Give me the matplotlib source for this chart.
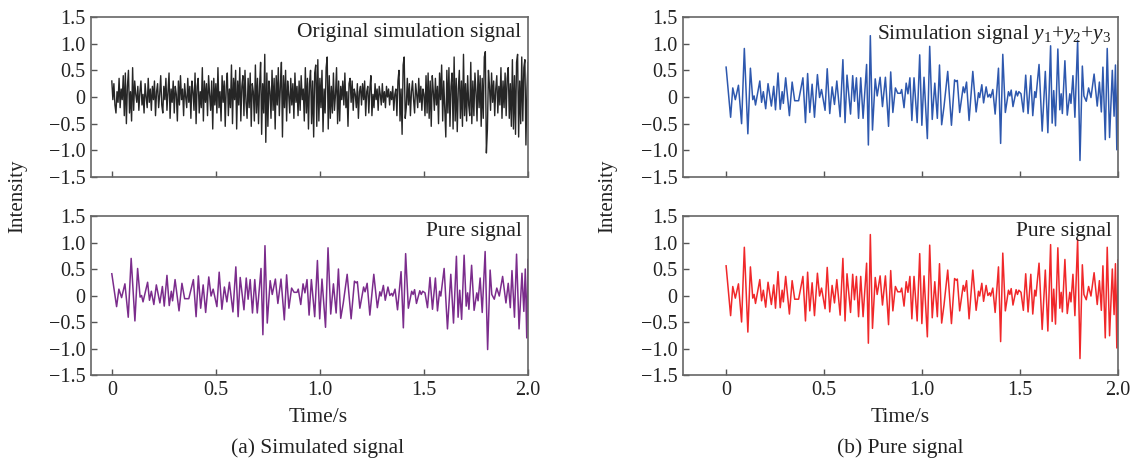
import numpy as np
import matplotlib
matplotlib.use('Agg')
import matplotlib.pyplot as plt

plt.rcParams['font.family'] = ['Liberation Serif', 'DejaVu Serif']
plt.rcParams['mathtext.fontset'] = 'custom'
plt.rcParams['mathtext.rm'] = 'Liberation Serif'
plt.rcParams['mathtext.it'] = 'Liberation Serif:italic'

# tempos dos extremos do sinal puro (s)
t_pure = [0.000, 0.023, 0.034, 0.047, 0.063, 0.079, 0.093, 0.111, 0.124, 0.136,
          0.143, 0.150, 0.172, 0.181, 0.190, 0.202, 0.214, 0.231, 0.243, 0.252,
          0.265, 0.276, 0.286, 0.292, 0.304, 0.323, 0.337, 0.350, 0.370, 0.392,
          0.405, 0.416, 0.427, 0.439, 0.451, 0.466, 0.477, 0.487, 0.505, 0.516,
          0.529, 0.541, 0.553, 0.565, 0.582, 0.596, 0.607, 0.617, 0.635, 0.646,
          0.655, 0.665, 0.676, 0.687, 0.699, 0.717, 0.726, 0.736, 0.747, 0.761,
          0.771, 0.786, 0.798, 0.813, 0.829, 0.840, 0.851, 0.864, 0.876, 0.890,
          0.896, 0.908, 0.919, 0.928, 0.938, 0.948, 0.959, 0.975, 0.988, 0.999,
          1.010, 1.027, 1.039, 1.052, 1.065, 1.078, 1.089, 1.100, 1.112, 1.131,
          1.150, 1.166, 1.174, 1.180, 1.192, 1.210, 1.217, 1.227, 1.240, 1.259,
          1.276, 1.288, 1.294, 1.305, 1.314, 1.327, 1.336, 1.345, 1.350, 1.361,
          1.373, 1.390, 1.401, 1.412, 1.425, 1.441, 1.448, 1.455, 1.464, 1.480,
          1.487, 1.494, 1.505, 1.517, 1.529, 1.541, 1.555, 1.565, 1.575, 1.581,
          1.597, 1.613, 1.629, 1.642, 1.656, 1.664, 1.672, 1.681, 1.693, 1.703,
          1.710, 1.716, 1.729, 1.741, 1.754, 1.760, 1.770, 1.780, 1.794, 1.806,
          1.818, 1.826, 1.838, 1.850, 1.862, 1.878, 1.894, 1.905, 1.915, 1.923,
          1.935, 1.945, 1.957, 1.971, 1.980, 1.987, 1.994, 2.000]

# sinal puro (painel a)
y_pure = [0.41, -0.21, 0.12, -0.04, 0.22, -0.41, 0.70, -0.48, 0.51, -0.03,
          0.00, -0.12, 0.25, -0.09, 0.08, -0.17, 0.20, -0.14, 0.17, -0.20,
          0.38, -0.19, 0.08, -0.10, 0.30, -0.29, 0.23, -0.06, -0.06, 0.30,
          -0.40, 0.37, -0.24, 0.20, -0.32, 0.35, -0.01, 0.12, -0.21, 0.44,
          -0.26, 0.16, -0.12, 0.25, -0.31, 0.54, -0.40, 0.34, -0.27, 0.33,
          -0.07, 0.30, -0.33, 0.30, -0.33, 0.51, -0.74, 0.94, -0.52, 0.28,
          0.02, 0.31, -0.15, 0.31, -0.46, 0.39, -0.24, 0.14, 0.06, 0.06,
          0.12, -0.17, 0.22, 0.05, 0.30, -0.37, 0.30, -0.40, 0.66, -0.44,
          0.31, -0.60, 0.90, -0.35, 0.22, -0.33, 0.50, -0.43, -0.15, 0.40,
          -0.44, 0.27, 0.24, 0.26, -0.24, 0.16, 0.07, 0.23, -0.37, 0.40,
          -0.23, 0.07, -0.01, 0.19, -0.09, 0.16, 0.00, 0.04, -0.01, 0.12,
          -0.27, 0.45, -0.61, 0.79, -0.24, 0.08, 0.02, 0.11, -0.15, 0.09,
          0.02, 0.08, 0.05, -0.23, 0.34, -0.26, 0.33, -0.29, 0.08, -0.01,
          0.51, -0.63, 0.40, -0.52, 0.74, -0.41, 0.10, -0.45, 0.76, -0.20,
          0.05, -0.26, 0.57, -0.28, 0.05, -0.10, 0.33, -0.32, 0.83, -1.02,
          0.48, 0.02, -0.07, 0.14, -0.01, 0.36, -0.14, 0.23, -0.23, 0.47,
          -0.41, 0.78, -0.63, 0.42, -0.30, 0.50, -0.80, 0.68]

# y1+y2+y3 (painel b)
y_sum = [0.56, -0.38, 0.17, -0.05, 0.22, -0.50, 0.91, -0.69, 0.54, -0.05,
         0.02, -0.15, 0.30, -0.10, 0.10, -0.22, 0.25, -0.17, 0.20, -0.24,
         0.45, -0.23, 0.10, -0.12, 0.36, -0.35, 0.28, -0.07, -0.07, 0.36,
         -0.48, 0.44, -0.29, 0.24, -0.38, 0.42, -0.01, 0.14, -0.25, 0.53,
         -0.31, 0.19, -0.14, 0.30, -0.37, 0.70, -0.48, 0.41, -0.32, 0.40,
         -0.08, 0.36, -0.40, 0.36, -0.40, 0.61, -0.90, 1.15, -0.62, 0.34,
         0.02, 0.37, -0.18, 0.37, -0.55, 0.47, -0.29, 0.17, 0.07, 0.07,
         0.14, -0.20, 0.26, 0.06, 0.36, -0.44, 0.36, -0.48, 0.79, -0.53,
         0.37, -0.78, 0.95, -0.42, 0.26, -0.40, 0.60, -0.52, -0.18, 0.48,
         -0.53, 0.32, 0.29, 0.31, -0.29, 0.19, 0.08, 0.28, -0.44, 0.48,
         -0.28, 0.08, -0.01, 0.23, -0.11, 0.19, 0.00, 0.05, -0.01, 0.14,
         -0.32, 0.54, -0.87, 0.80, -0.29, 0.10, 0.02, 0.13, -0.18, 0.11,
         0.02, 0.10, 0.06, -0.28, 0.41, -0.31, 0.40, -0.35, 0.10, -0.01,
         0.61, -0.64, 0.48, -0.67, 0.96, -0.49, 0.12, -0.54, 0.90, -0.24,
         0.06, -0.31, 0.68, -0.34, 0.06, -0.12, 0.40, -0.38, 1.06, -1.19,
         0.58, 0.02, -0.08, 0.17, -0.01, 0.43, -0.17, 0.28, -0.28, 0.56,
         -0.80, 0.91, -0.76, 0.50, -0.36, 0.60, -0.99, 0.67]

# sinal original com ruido, amostrado a cada 0.005 s
y_orig = [0.30, -0.05, 0.25, -0.15, -0.30, 0.10, -0.10, 0.35, -0.20, 0.15, -0.05, 0.40, -0.35, 0.45, -0.50, 0.20, 0.50, -0.30, 0.10, -0.45,
          0.55, -0.25, 0.30, 0.05, -0.10, 0.20, -0.25, 0.10, 0.30, -0.15, 0.05, -0.30, 0.25, 0.00, -0.20, 0.35, -0.10, 0.15, -0.25, 0.20,
          -0.05, 0.30, -0.35, 0.10, 0.25, -0.20, 0.05, 0.40, -0.15, -0.30, 0.20, -0.05, 0.35, -0.25, 0.10, 0.45, -0.40, 0.15, -0.10, 0.30,
          -0.30, 0.20, 0.05, -0.45, 0.30, -0.15, 0.40, -0.05, 0.15, -0.35, 0.25, 0.00, -0.20, 0.35, -0.10, 0.20, -0.40, 0.30, 0.10, -0.25,
          0.45, -0.50, 0.20, 0.35, -0.30, 0.10, -0.20, 0.55, -0.45, 0.30, -0.10, 0.25, -0.35, 0.40, 0.05, -0.25, 0.30, -0.60, 0.35, -0.15,
          0.25, -0.30, 0.55, -0.20, 0.10, -0.45, 0.40, -0.10, 0.30, -0.55, 0.20, 0.45, -0.35, 0.15, -0.20, 0.60, -0.50, 0.35, -0.05, 0.50,
          -0.60, 0.30, -0.15, 0.55, -0.45, 0.20, 0.40, -0.35, 0.50, -0.10, -0.40, 0.35, -0.20, 0.45, -0.55, 0.25, 0.10, -0.45, 0.60, -0.30,
          0.35, -0.50, 0.20, 0.65, -0.70, 0.25, -0.30, 0.80, -0.85, 0.45, -0.55, 0.30, 0.10, -0.40, 0.50, -0.25, 0.35, -0.60, 0.40, -0.15,
          0.55, -0.35, 0.20, 0.65, -0.75, 0.40, -0.20, 0.50, -0.45, 0.30, 0.05, -0.30, 0.35, -0.15, 0.25, -0.40, 0.45, -0.10, 0.20, -0.35,
          0.30, -0.25, 0.40, -0.05, 0.15, -0.45, 0.55, -0.30, 0.35, -0.60, 0.25, 0.50, -0.50, 0.30, -0.75, 0.45, 0.60, -0.55, 0.70, -0.45,
          0.35, -0.20, 0.50, -0.65, 0.15, -0.30, 0.55, 0.75, -0.60, 0.40, -0.40, 0.20, -0.30, 0.45, -0.25, 0.05, 0.55, -0.50, 0.30, -0.45,
          0.20, -0.05, 0.30, -0.15, 0.45, -0.20, 0.10, -0.55, 0.25, 0.35, -0.10, 0.30, -0.25, 0.15, 0.05, -0.20, 0.25, -0.40, 0.10, 0.20,
          -0.15, 0.25, -0.05, 0.30, -0.35, 0.10, 0.20, -0.30, 0.15, 0.40, -0.35, 0.05, -0.20, 0.25, -0.05, 0.15, -0.25, 0.20, 0.05, -0.15,
          0.25, -0.10, 0.10, -0.20, 0.20, 0.00, 0.15, -0.15, 0.10, -0.05, 0.20, -0.25, 0.05, 0.15, -0.35, 0.30, 0.50, -0.45, 0.15, -0.70,
          0.60, 0.75, -0.40, -0.20, 0.35, -0.15, 0.25, -0.35, 0.10, 0.30, -0.05, -0.30, 0.25, 0.05, -0.20, 0.35, -0.10, 0.20, -0.25, 0.15,
          0.05, -0.35, 0.40, -0.30, 0.45, -0.40, 0.30, -0.55, 0.40, 0.10, -0.25, 0.35, -0.15, 0.20, -0.50, 0.45, -0.05, 0.60, -0.45, 0.30,
          -0.20, -0.75, 0.50, -0.30, 0.55, -0.55, 0.20, 0.45, -0.60, 0.75, -0.45, 0.35, -0.65, 0.15, 0.50, -0.40, 0.30, -0.55, 0.80, -0.35,
          0.25, -0.45, 0.40, -0.15, -0.35, 0.65, -0.50, 0.30, -0.35, 0.45, 0.10, -0.45, 0.50, -0.20, 0.40, -0.55, 0.35, -0.40, 0.75, 0.85,
          -1.05, -0.60, 0.50, 0.20, -0.25, 0.45, -0.10, 0.30, -0.35, 0.15, 0.40, -0.30, 0.20, -0.15, 0.55, -0.40, 0.30, -0.20, 0.45, -0.35,
          0.35, 0.55, -0.40, 0.25, -0.55, 0.70, -0.60, 0.40, -0.70, 0.65, 0.80, -0.75, 0.30, -0.50, 0.75, -0.45, 0.55, 0.70, -0.90, 0.15,
          0.65]
t_orig = np.arange(len(y_orig)) * 0.005

yticks = [1.5, 1.0, 0.5, 0, -0.5, -1.0, -1.5]
ytick_labels = ['1.5', '1.0', '0.5', '0', '\u22120.5', '\u22121.0', '\u22121.5']
xticks = [0, 0.5, 1.0, 1.5, 2.0]
xtick_labels = ['0', '0.5', '1.0', '1.5', '2.0']

fig = plt.figure(figsize=(11.36, 4.61), dpi=100)

W, H = 1136, 461


def make_ax(x0, x1, y0, y1):
    return fig.add_axes([x0 / W, 1 - y1 / H, (x1 - x0) / W, (y1 - y0) / H])


ax_a1 = make_ax(91, 528, 17, 177)
ax_a2 = make_ax(91, 528, 216, 375)
ax_b1 = make_ax(683, 1118, 17, 177)
ax_b2 = make_ax(683, 1118, 216, 375)

ax_a1.plot(t_orig, y_orig, color='#262626', lw=1.0)
ax_a2.plot(t_pure, y_pure, color='#7B2C8C', lw=1.1)
ax_b1.plot(t_pure, y_sum, color='#2E58AE', lw=1.1)
ax_b2.plot(t_pure, y_sum, color='#F0282A', lw=1.1)

labels = {ax_a1: 'Original simulation signal',
          ax_a2: 'Pure signal',
          ax_b1: r'Simulation signal $y_1$+$y_2$+$y_3$',
          ax_b2: 'Pure signal'}

for ax in [ax_a1, ax_a2, ax_b1, ax_b2]:
    if ax in (ax_a1, ax_a2):
        ax.set_xlim(-0.1, 2.0)
    else:
        ax.set_xlim(-0.22, 2.0)
    ax.set_ylim(-1.5, 1.5)
    ax.set_yticks(yticks)
    ax.set_yticklabels(ytick_labels)
    ax.set_xticks(xticks)
    ax.tick_params(direction='in', length=4, width=1, color='#555555',
                   labelsize=14.5, labelcolor='#222222', pad=4)
    for sp in ax.spines.values():
        sp.set_color('#666666')
        sp.set_linewidth(1.2)
    ax.text(0.985, 0.965, labels[ax], transform=ax.transAxes, ha='right',
            va='top', fontsize=15.5, color='#222222')

for ax in (ax_a1, ax_b1):
    ax.set_xticklabels([])
for ax in (ax_a2, ax_b2):
    ax.set_xticklabels(xtick_labels)

for x in (18, 608):
    fig.text(x / W, 1 - 196 / H, 'Intensity', rotation=90, ha='center',
             va='center', fontsize=15, color='#222222')
fig.text(318 / W, 1 - 417 / H, 'Time/s', ha='center', va='center',
         fontsize=15.5, color='#222222')
fig.text(900 / W, 1 - 417 / H, 'Time/s', ha='center', va='center',
         fontsize=15.5, color='#222222')
fig.text(318 / W, 1 - 448 / H, '(a) Simulated signal', ha='center',
         va='center', fontsize=15.5, color='#222222')
fig.text(900 / W, 1 - 448 / H, '(b) Pure signal', ha='center',
         va='center', fontsize=15.5, color='#222222')

fig.savefig('out.png', dpi=100)
